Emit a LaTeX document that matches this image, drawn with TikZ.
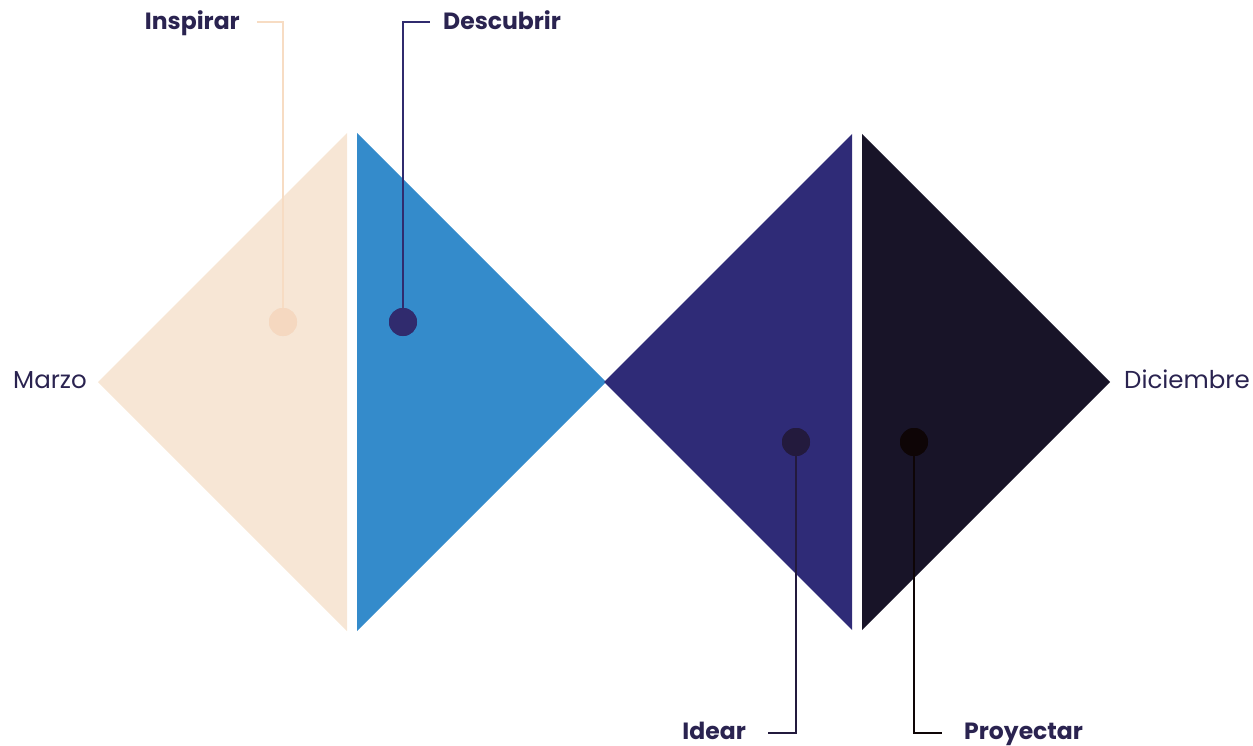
\documentclass[tikz,border=0pt]{standalone}
\usepackage{fontspec}
\setmainfont{Poppins}
\definecolor{peach}{HTML}{F7E6D5}
\definecolor{peachline}{HTML}{F7DCC3}
\definecolor{peachdot}{HTML}{F5D8C0}
\definecolor{sky}{HTML}{348BCB}
\definecolor{indigo}{HTML}{2F2B77}
\definecolor{night}{HTML}{181428}
\definecolor{descline}{HTML}{302B6E}
\definecolor{ideacol}{HTML}{231A3D}
\definecolor{proycol}{HTML}{0E0506}
\definecolor{txt}{HTML}{2A2350}
\tikzset{
  lbl/.style={font=\bfseries\fontsize{23.5}{26}\selectfont, text=txt, inner sep=0pt},
  side/.style={font=\fontsize{24.5}{27}\selectfont, text=txt, inner sep=0pt},
  leader/.style={line width=2pt},
  dotm/.style={circle, inner sep=0pt, minimum size=28pt}
}
\begin{document}
\begin{tikzpicture}[x=1pt,y=-1pt]
\useasboundingbox (0,0) rectangle (1253,746);
% left diamond
\fill[peach] (98,382) -- (347,133) -- (347,631) -- cycle;
\fill[sky] (357,133) -- (606,382) -- (357,631) -- cycle;
% right diamond
\fill[indigo] (604,382) -- (852,134) -- (852,630) -- cycle;
\fill[night] (862,134) -- (1110,382) -- (862,630) -- cycle;
% dots
\node[dotm, fill=peachdot] (d1) at (283,322) {};
\node[dotm, fill=descline] (d2) at (403,322) {};
\node[dotm, fill=ideacol] (d3) at (796,442) {};
\node[dotm, fill=proycol] (d4) at (914,442) {};
% labels
\node[lbl, anchor=base east] (l1) at (240,30) {Inspirar};
\node[lbl, anchor=base west] (l2) at (443,30) {Descubrir};
\node[lbl, anchor=base east] (l3) at (746,739) {Idear};
\node[lbl, anchor=base west] (l4) at (964,739) {Proyectar};
\node[side, anchor=base east] (m) at (87,388) {Marzo};
\node[side, anchor=base west] (dz) at (1124,388) {Diciembre};
% connectors
\coordinate (c1) at (283,22);
\coordinate (c2) at (403,22);
\coordinate (c3) at (796,733);
\coordinate (c4) at (914,733);
\draw[leader, peachline] (d1.center) -- (c1) -- ([xshift=17pt]l1.east |- c1);
\draw[leader, descline] (d2.center) -- (c2) -- ([xshift=-13pt]l2.west |- c2);
\draw[leader, ideacol] (d3.center) -- (c3) -- ([xshift=22pt]l3.east |- c3);
\draw[leader, proycol] (d4.center) -- (c4) -- ([xshift=-22pt]l4.west |- c4);
\node[dotm, fill=peachdot] at (d1) {};
\node[dotm, fill=descline] at (d2) {};
\node[dotm, fill=ideacol] at (d3) {};
\node[dotm, fill=proycol] at (d4) {};
\end{tikzpicture}
\end{document}
